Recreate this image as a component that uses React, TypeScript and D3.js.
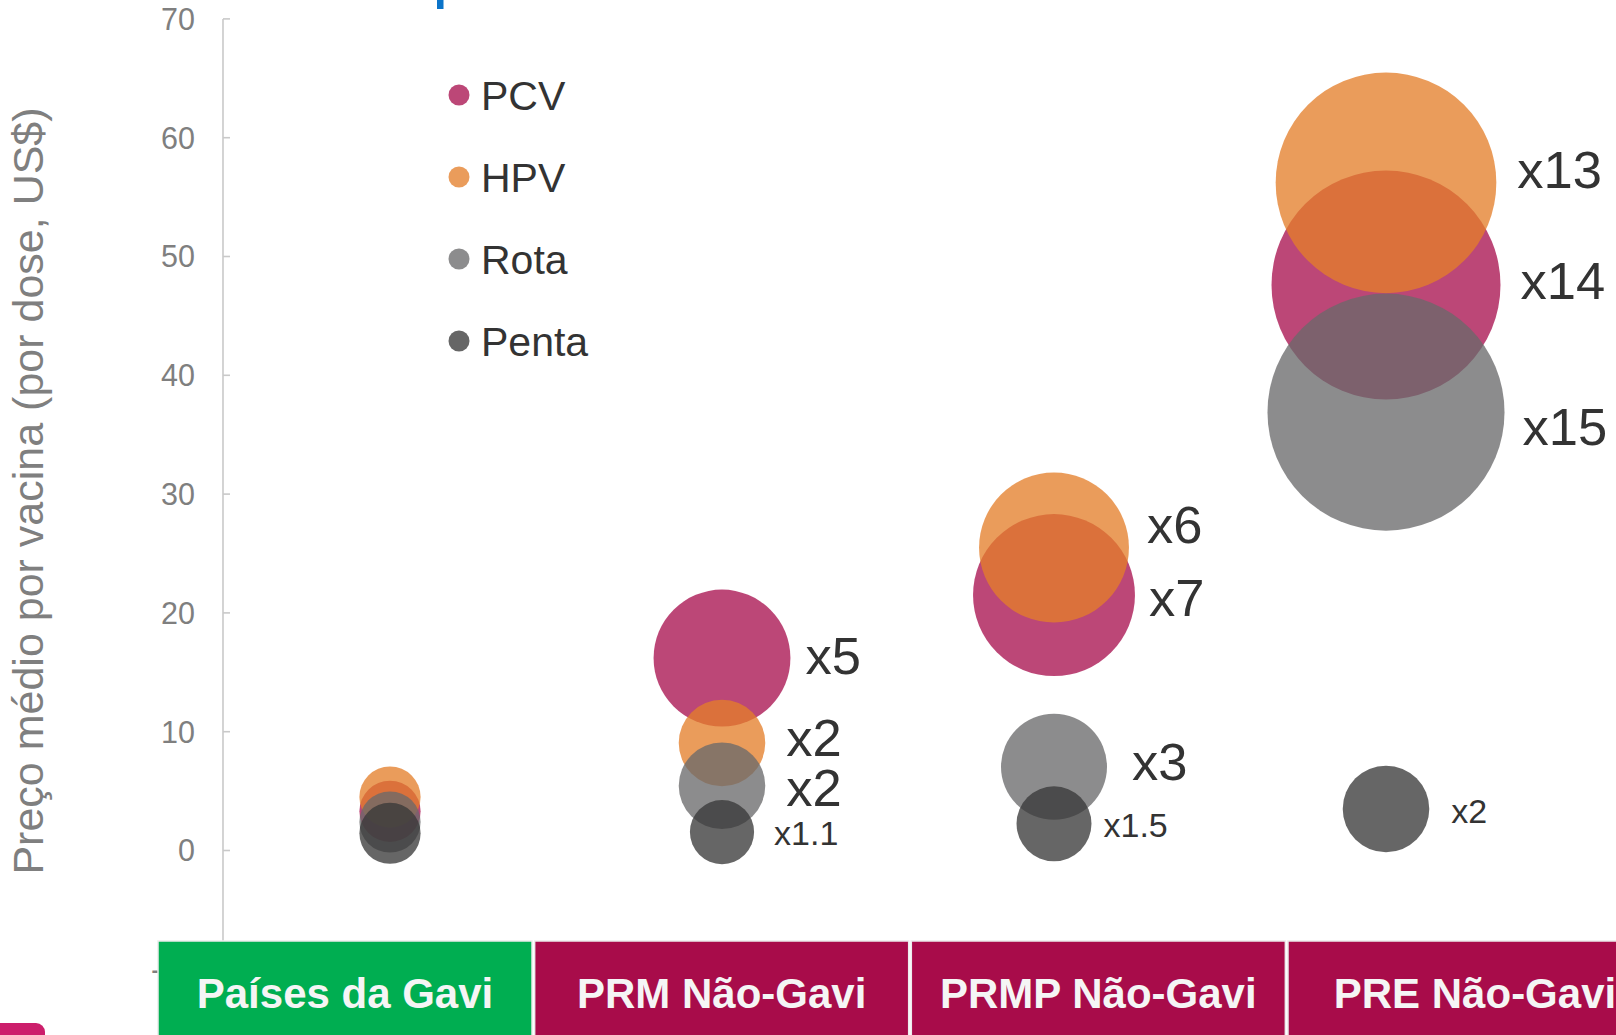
import React, { useEffect } from "react";
import * as d3 from "d3";

// ---------- data ----------
const categories = ["Países da Gavi", "PRM Não-Gavi", "PRMP Não-Gavi", "PRE Não-Gavi"];
const vaccines = ["PCV", "HPV", "Rota", "Penta"];

// average price per dose (US$)
const pcvPrice = [3.3, 16.2, 21.5, 47.6];
const hpvPrice = [4.5, 9.05, 25.5, 56.2];
const rotaPrice = [2.4, 5.45, 7.05, 36.9];
const pentaPrice = [1.45, 1.55, 2.25, 3.5];

// price multiple vs. Gavi countries (drives bubble area)
const pcvMult = [1, 5, 7, 14];
const hpvMult = [1, 2, 6, 13];
const rotaMult = [1, 2, 3, 15];
const pentaMult = [1, 1.1, 1.5, 2];

const yTicks = [-10, 0, 10, 20, 30, 40, 50, 60, 70];

// ---------- styles / layout ----------
const W = 1616;
const H = 1035;
const FONT = "'Liberation Sans', Arial, Helvetica, sans-serif";
const vaccineColors = ["#a8104e", "#e47e29", "#6a6a6b", "#383838"];
const BUBBLE_OPACITY = 0.77;
const barColors = ["#00ae51", "#a80c4a", "#a80c4a", "#a80c4a"];

// annotation nudges (px) for the multiplier labels, [vaccine][category]
const LABEL_NUDGE: Record<string, [number, number][]> = {
  PCV: [[0, 0], [-3, -2], [-4, 3], [2, -4]],
  HPV: [[0, 0], [3, -5], [0, -23], [3, -13]],
  Rota: [[0, 0], [3, 2], [7, -5], [0, 14]],
  Penta: [[0, 0], [2, 1], [-6, 1], [4, 2]],
};

export default function App() {
  useEffect(() => {
    document.body.style.margin = "0";
    document.body.style.overflow = "hidden";
  }, []);

  const y = d3.scaleLinear().domain([-10, 70]).range([969.3, 18.9]);
  const x = d3.scalePoint<string>().domain(categories).range([390, 1386]);
  const r = d3.scaleSqrt().domain([0, 15]).range([0, 30.6 * Math.sqrt(15)]);
  const band = d3
    .scaleBand<string>()
    .domain(categories)
    .range([158, 158 + 376 * 4])
    .paddingInner(0.007)
    .paddingOuter(0);

  const axisX = 223;

  const series = [
    { name: "PCV", price: pcvPrice, mult: pcvMult },
    { name: "HPV", price: hpvPrice, mult: hpvMult },
    { name: "Rota", price: rotaPrice, mult: rotaMult },
    { name: "Penta", price: pentaPrice, mult: pentaMult },
  ];

  return (
    <svg
      width={W}
      height={H}
      viewBox={`0 0 ${W} ${H}`}
      style={{ position: "absolute", left: 0, top: 0, background: "#fff" }}
      fontFamily={FONT}
    >
      <rect x={0} y={0} width={W} height={H} fill="#ffffff" />

      {/* blue marker at top */}
      <rect x={437} y={0} width={6.5} height={9} fill="#0b74c9" />

      {/* y-axis title */}
      <text
        transform={`translate(43, ${491}) rotate(-90)`}
        textAnchor="middle"
        fontSize={43}
        fill="#7f7f7f"
      >
        Preço médio por vacina (por dose, US$)
      </text>

      {/* y axis */}
      <line x1={axisX} x2={axisX} y1={y(70)} y2={y(-10)} stroke="#c9c9c9" strokeWidth={1.6} />
      {yTicks.map((t) => (
        <g key={t}>
          <line x1={axisX} x2={axisX + 7} y1={y(t)} y2={y(t)} stroke="#c9c9c9" strokeWidth={1.6} />
          <text
            x={195}
            y={y(t) + 10.9}
            textAnchor="end"
            fontSize={30.5}
            fill="#7f7f7f"
          >
            {t}
          </text>
        </g>
      ))}

      {/* legend */}
      {vaccines.map((v, i) => (
        <g key={v} transform={`translate(459, ${95 + i * 82})`}>
          <circle r={10.5} fill={vaccineColors[i]} fillOpacity={BUBBLE_OPACITY} />
          <text x={22} y={14.6} fontSize={41} fill="#333333">
            {v}
          </text>
        </g>
      ))}

      {/* bubbles */}
      {series.map((s, si) =>
        categories.map((c, ci) => (
          <circle
            key={`${s.name}-${c}`}
            cx={x(c)}
            cy={y(s.price[ci])}
            r={r(s.mult[ci])}
            fill={vaccineColors[si]}
            fillOpacity={BUBBLE_OPACITY}
          />
        ))
      )}

      {/* multiplier labels */}
      {series.map((s, si) =>
        categories.map((c, ci) => {
          if (ci === 0) return null;
          const fs = s.name === "Penta" ? 34 : 52.5;
          const [dx, dy] = LABEL_NUDGE[s.name][ci];
          const cx = (x(c) as number) + r(s.mult[ci]) + 18 + dx;
          const cy = y(s.price[ci]) + dy + fs * 0.35;
          return (
            <text key={`lbl-${s.name}-${c}`} x={cx} y={cy} fontSize={fs} fill="#333333">
              {`x${s.mult[ci]}`}
            </text>
          );
        })
      )}

      {/* category bars */}
      {categories.map((c, i) => (
        <g key={`bar-${c}`}>
          <rect
            x={band(c)}
            y={941}
            width={band.bandwidth()}
            height={130}
            fill={barColors[i]}
            stroke="#ececec"
            strokeWidth={1.5}
          />
          <text
            x={(band(c) as number) + band.bandwidth() / 2}
            y={1008}
            textAnchor="middle"
            fontSize={42}
            fontWeight="bold"
            fill="#f5f5f5"
          >
            {c}
          </text>
        </g>
      ))}

      {/* pink tab bottom-left */}
      <rect x={-20} y={1023} width={65} height={40} rx={9} fill="#cc1e6b" />
    </svg>
  );
}
